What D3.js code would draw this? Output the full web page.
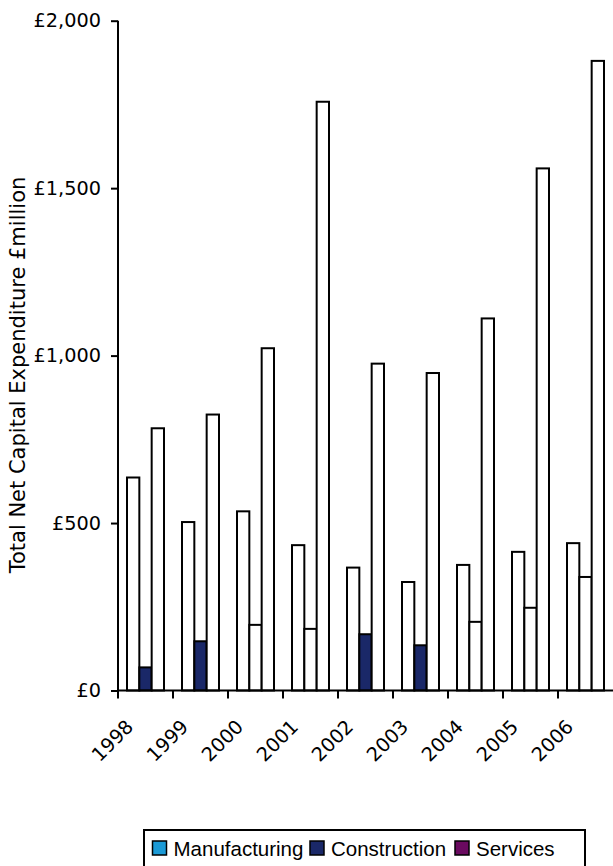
<!DOCTYPE html>
<html>
<head>
<meta charset="utf-8">
<script src="https://cdn.jsdelivr.net/npm/d3@7/dist/d3.min.js"></script>
<style>
  html, body { margin: 0; padding: 0; background: #fff; }
  svg { display: block; }
</style>
</head>
<body>
<svg id="chart" width="613" height="866"></svg>
<script>
// Total net capital expenditure by sector, £ million
const years = ["1998", "1999", "2000", "2001", "2002", "2003", "2004", "2005", "2006"];
const seriesNames = ["Manufacturing", "Construction", "Services"];
const manufacturing = [636, 503, 535, 434, 367, 324, 375, 414, 440];
const construction  = [69, 147, 196, 184, 168, 135, 205, 247, 339];
const services      = [783, 824, 1022, 1758, 976, 948, 1111, 1559, 1880];
const yTicks = [0, 500, 1000, 1500, 2000];
const legendColors = ["#1b9ad6", "#1a2868", "#6a0a60"];
// Years whose construction bar is shown solid
const solidConstructionYears = ["1998", "1999", "2002", "2003"];

const svg = d3.select("#chart");
const margin = { left: 118, right: 0, top: 20.7, bottom: 175.5 };
const W = 613, H = 866;
const plotBottom = H - margin.bottom;

const x = d3.scaleBand().domain(years).range([margin.left, W - margin.right]).padding(0);
const xs = d3.scaleBand().domain(seriesNames).range([0, x.bandwidth()])
  .paddingInner(0).paddingOuter(0.73);
const y = d3.scaleLinear().domain([0, 2000]).range([plotBottom, margin.top]);

const seriesValues = [manufacturing, construction, services];
const rows = [];
years.forEach((yr, i) => {
  seriesNames.forEach((s, j) => {
    rows.push({ year: yr, series: s, value: seriesValues[j][i] });
  });
});

// Bars
svg.append("g").selectAll("rect").data(rows).join("rect")
  .attr("x", d => x(d.year) + xs(d.series))
  .attr("y", d => y(d.value))
  .attr("width", xs.bandwidth())
  .attr("height", d => y(0) - y(d.value))
  .attr("fill", d => (d.series === "Construction" && solidConstructionYears.includes(d.year))
    ? legendColors[1] : "#ffffff")
  .attr("stroke", "#000")
  .attr("stroke-width", 2);

// Y axis
const yAxis = d3.axisLeft(y).tickValues(yTicks).tickSize(7).tickPadding(10)
  .tickFormat(d => "£" + d3.format(",")(d));
const gy = svg.append("g").attr("transform", `translate(${margin.left},0)`).call(yAxis);
gy.select(".domain").attr("d", `M0,${y(2000)}V${plotBottom + 7}`)
  .attr("stroke", "#000").attr("stroke-width", 2);
gy.selectAll(".tick line").attr("stroke", "#000").attr("stroke-width", 2);
gy.selectAll(".tick text")
  .attr("font-family", "'DejaVu Sans', Verdana, sans-serif")
  .attr("font-size", 19.3).attr("fill", "#000");

// X axis: ticks sit on the boundaries between year groups
const gx = svg.append("g").attr("transform", `translate(0,${plotBottom})`);
gx.append("line").attr("x1", margin.left).attr("x2", W).attr("y1", 0).attr("y2", 0)
  .attr("stroke", "#000").attr("stroke-width", 2);
gx.selectAll("line.tk").data(years).join("line").attr("class", "tk")
  .attr("x1", d => x(d)).attr("x2", d => x(d))
  .attr("y1", 0).attr("y2", 8)
  .attr("stroke", "#000").attr("stroke-width", 2);
gx.selectAll("text").data(years).join("text")
  .attr("transform", d => `translate(${x(d) + x.bandwidth() / 2 - 11},37.5) rotate(-45)`)
  .attr("text-anchor", "end")
  .attr("font-family", "'DejaVu Sans', Verdana, sans-serif")
  .attr("font-size", 19.3)
  .attr("fill", "#000")
  .text(d => d);

// Y axis title
svg.append("text")
  .attr("transform", `translate(25,${375}) rotate(-90)`)
  .attr("text-anchor", "middle")
  .attr("font-family", "'DejaVu Sans', Verdana, sans-serif")
  .attr("font-size", 21)
  .attr("fill", "#000")
  .text("Total Net Capital Expenditure £million");

// Legend
const lg = svg.append("g");
lg.append("rect").attr("x", 144).attr("y", 830).attr("width", 441).attr("height", 50)
  .attr("fill", "#fff").attr("stroke", "#000").attr("stroke-width", 2);
const legendX = [152.5, 310, 455];
seriesNames.forEach((s, i) => {
  lg.append("rect").attr("x", legendX[i]).attr("y", 841).attr("width", 14).attr("height", 14)
    .attr("fill", legendColors[i]).attr("stroke", "#000").attr("stroke-width", 1.5);
  lg.append("text").attr("x", legendX[i] + 21).attr("y", 855.5)
    .attr("font-family", "'Liberation Sans', Arial, sans-serif")
    .attr("font-size", 20.5).attr("fill", "#000")
    .text(s);
});
</script>
</body>
</html>
